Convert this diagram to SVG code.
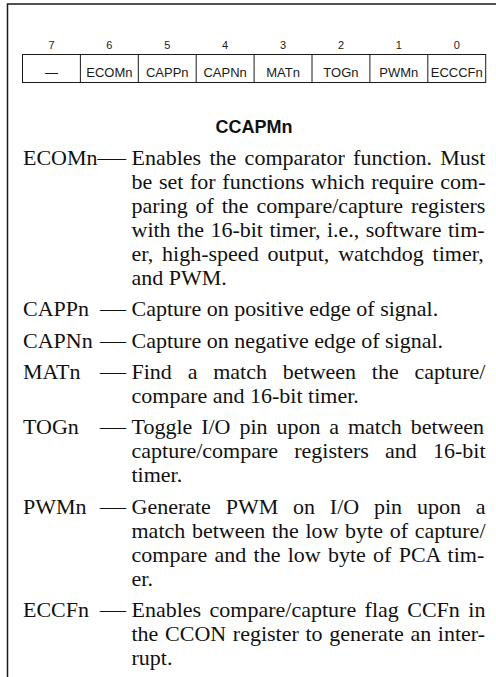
<svg xmlns="http://www.w3.org/2000/svg" width="496" height="677" viewBox="0 0 496 677">
<style>
.frame{fill:none;stroke:#1a1a1a;stroke-width:1.5}
.cell{fill:#fff;stroke:#1a1a1a;stroke-width:1}
.div{stroke:#1a1a1a;stroke-width:1}
.bit{font-family:"Liberation Sans",Arial,sans-serif;font-size:11px;fill:#1a1a1a;text-anchor:middle}
.fld{font-family:"Liberation Sans",Arial,sans-serif;font-size:13px;fill:#1a1a1a;text-anchor:middle}
.title{font-family:"Liberation Sans",Arial,sans-serif;font-size:18px;font-weight:bold;fill:#111;text-anchor:middle}
.lbl{font-family:"Liberation Serif","Times New Roman",serif;font-size:22px;fill:#111}
.txt{font-family:"Liberation Serif","Times New Roman",serif;font-size:22px;fill:#111}
</style>
<rect width="496" height="677" fill="#fff"/>
<path class="frame" d="M7.5,677 V4 H496"/>
<g id="register">
<g id="bits">
<text class="bit" x="51.45" y="48.5">7</text>
<text class="bit" x="109.35" y="48.5">6</text>
<text class="bit" x="167.25" y="48.5">5</text>
<text class="bit" x="225.15" y="48.5">4</text>
<text class="bit" x="283.05" y="48.5">3</text>
<text class="bit" x="340.95" y="48.5">2</text>
<text class="bit" x="398.85" y="48.5">1</text>
<text class="bit" x="456.75" y="48.5">0</text>
</g>
<rect class="cell" x="22.5" y="54.5" width="463.2" height="28"/>
<g id="dividers">
<line class="div" x1="80.4" y1="54.5" x2="80.4" y2="82.5"/>
<line class="div" x1="138.3" y1="54.5" x2="138.3" y2="82.5"/>
<line class="div" x1="196.2" y1="54.5" x2="196.2" y2="82.5"/>
<line class="div" x1="254.1" y1="54.5" x2="254.1" y2="82.5"/>
<line class="div" x1="312" y1="54.5" x2="312" y2="82.5"/>
<line class="div" x1="369.9" y1="54.5" x2="369.9" y2="82.5"/>
<line class="div" x1="427.8" y1="54.5" x2="427.8" y2="82.5"/>
</g>
<g id="fields">
<text class="fld" x="51.45" y="76.5">—</text>
<text class="fld" x="109.35" y="76.5">ECOMn</text>
<text class="fld" x="167.25" y="76.5">CAPPn</text>
<text class="fld" x="225.15" y="76.5">CAPNn</text>
<text class="fld" x="283.05" y="76.5">MATn</text>
<text class="fld" x="340.95" y="76.5">TOGn</text>
<text class="fld" x="398.85" y="76.5">PWMn</text>
<text class="fld" x="456.75" y="76.5">ECCCFn</text>
</g>
</g>
<text id="title" class="title" x="254" y="133">CCAPMn</text>
<g id="ecomn">
<text class="lbl" x="23" y="165">ECOMn</text>
<text class="lbl" x="97.5" y="165" textLength="28.5" lengthAdjust="spacingAndGlyphs">—</text>
<text class="txt" x="131.5" y="165" word-spacing="2.8">Enables the comparator function. Must</text>
<text class="txt" x="131.5" y="189" word-spacing="1.17">be set for functions which require com-</text>
<text class="txt" x="131.5" y="213" word-spacing="2.35">paring of the compare/capture registers</text>
<text class="txt" x="131.5" y="237" word-spacing="0.95">with the 16-bit timer, i.e., software tim-</text>
<text class="txt" x="131.5" y="261" word-spacing="3.4">er, high-speed output, watchdog timer,</text>
<text class="txt" x="131.5" y="285">and PWM.</text>
</g>
<g id="cappn">
<text class="lbl" x="23" y="316.3">CAPPn</text>
<text class="lbl" x="100" y="316.3" textLength="26" lengthAdjust="spacingAndGlyphs">—</text>
<text class="txt" x="131.5" y="316.3">Capture on positive edge of signal.</text>
</g>
<g id="capnn">
<text class="lbl" x="23" y="347.6">CAPNn</text>
<text class="lbl" x="100" y="347.6" textLength="26" lengthAdjust="spacingAndGlyphs">—</text>
<text class="txt" x="131.5" y="347.6">Capture on negative edge of signal.</text>
</g>
<g id="matn">
<text class="lbl" x="23" y="378.9">MATn</text>
<text class="lbl" x="100" y="378.9" textLength="26" lengthAdjust="spacingAndGlyphs">—</text>
<text class="txt" x="131.5" y="378.9" word-spacing="10.3">Find a match between the capture/</text>
<text class="txt" x="131.5" y="402.9">compare and 16-bit timer.</text>
</g>
<g id="togn">
<text class="lbl" x="23" y="434.2">TOGn</text>
<text class="lbl" x="100" y="434.2" textLength="26" lengthAdjust="spacingAndGlyphs">—</text>
<text class="txt" x="131.5" y="434.2" word-spacing="3.4">Toggle I/O pin upon a match between</text>
<text class="txt" x="131.5" y="458.2" word-spacing="10.7">capture/compare registers and 16-bit</text>
<text class="txt" x="131.5" y="482.2">timer.</text>
</g>
<g id="pwmn">
<text class="lbl" x="23" y="513.5">PWMn</text>
<text class="lbl" x="100" y="513.5" textLength="26" lengthAdjust="spacingAndGlyphs">—</text>
<text class="txt" x="131.5" y="513.5" word-spacing="9.3">Generate PWM on I/O pin upon a</text>
<text class="txt" x="131.5" y="537.5" word-spacing="1.17">match between the low byte of capture/</text>
<text class="txt" x="131.5" y="561.5" word-spacing="1.77">compare and the low byte of PCA tim-</text>
<text class="txt" x="131.5" y="585.5">er.</text>
</g>
<g id="eccfn">
<text class="lbl" x="23" y="616.8">ECCFn</text>
<text class="lbl" x="100" y="616.8" textLength="26" lengthAdjust="spacingAndGlyphs">—</text>
<text class="txt" x="131.5" y="616.8" word-spacing="2.95">Enables compare/capture flag CCFn in</text>
<text class="txt" x="131.5" y="640.8" word-spacing="1.17">the CCON register to generate an inter-</text>
<text class="txt" x="131.5" y="664.8">rupt.</text>
</g>
</svg>
